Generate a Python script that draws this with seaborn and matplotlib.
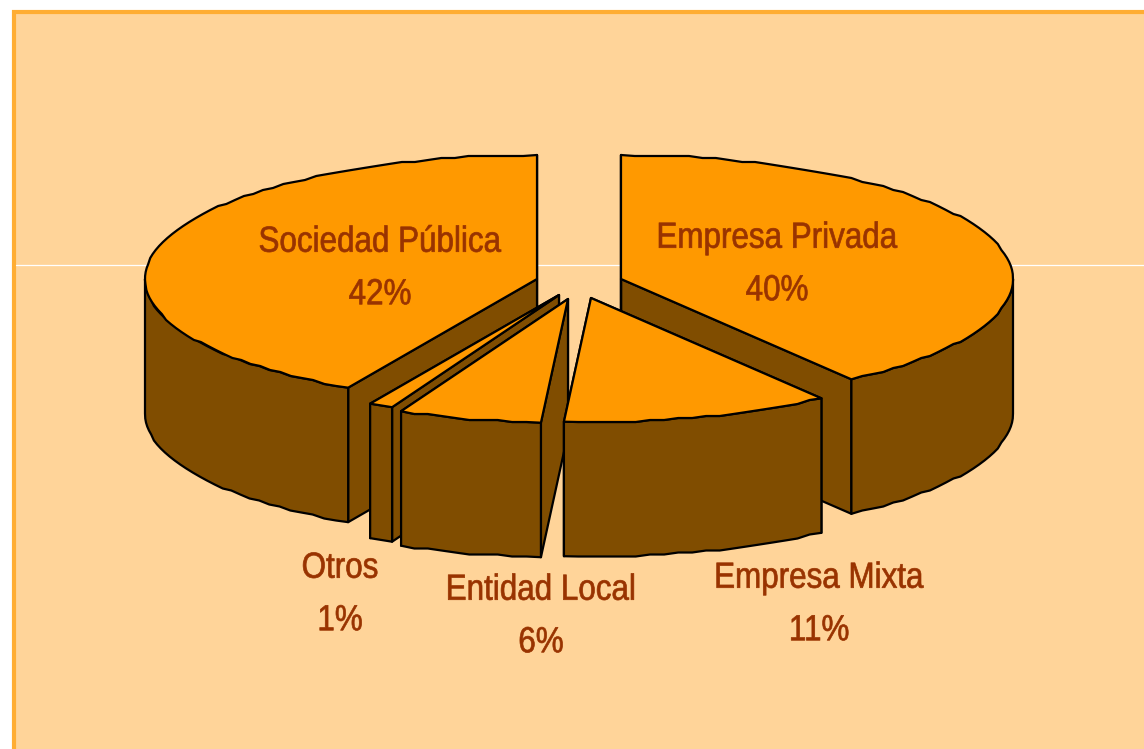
import numpy as np
import seaborn as sns
import matplotlib.pyplot as plt
from matplotlib.patches import Polygon, Rectangle
from matplotlib.patheffects import AbstractPathEffect
from matplotlib.transforms import Affine2D

# porcentajes, en el orden en que giran desde arriba (sentido antihorario)
categories = ["Sociedad Pública", "Otros", "Entidad Local", "Empresa Mixta", "Empresa Privada"]
percents = [42, 1, 5.9, 11.1, 40]

# centro de cada porción ya separada, en pixeles
apex_x = [537, 559, 568, 591, 621]
apex_y = [279, 295, 299, 298, 279]
label_x = [380, 340, 541, 819, 777]
label_y = [270, 596, 618, 606, 266]
draw_order = [0, 4, 1, 2, 3]

RX, RY, DEPTH = 392, 124, 134.5
TOP, SIDE, TEXT = "#FF9900", "#804D00", "#993300"
BACK, FRAME = "#FFD499", "#FFAD33"


class TallText(AbstractPathEffect):
    # la fuente original es más estrecha: se estira la letra en vertical desde la línea base
    def __init__(self, factor):
        super().__init__()
        self.factor = factor

    def draw_path(self, renderer, gc, tpath, affine, rgbFace=None):
        x, y = affine.get_matrix()[:2, 2]
        stretch = Affine2D().translate(-x, -y).scale(1, self.factor).translate(x, y)
        gc0 = renderer.new_gc()
        gc0.copy_properties(gc)
        gc0.set_linewidth(0.5)
        gc0.set_foreground(TEXT)
        renderer.draw_path(gc0, tpath, affine + stretch, rgbFace)
        gc0.restore()


def rim(cx, cy, a0, a1):
    # borde de la elipse, redondeado para dejar el contorno algo irregular
    n = max(2, int(abs(a1 - a0) / 2) + 1)
    ang = np.radians(np.linspace(a0, a1, n))
    x = cx + RX * np.cos(ang)
    y = cy - RY * np.sin(ang)
    y[1:-1] = np.round(y[1:-1] / 2) * 2
    return np.column_stack([x, y])


def draw_slice(ax, cx, cy, a0, a1):
    shift = np.array([0, DEPTH])
    apex = np.array([cx, cy])
    edge = rim(cx, cy, a0, a1)
    style = dict(edgecolor="black", linewidth=1.6, joinstyle="round")

    # caras de corte primero, luego pared exterior y por último la tapa
    for p in (edge[0], edge[-1]):
        ax.add_patch(Polygon([apex, p, p + shift, apex + shift], facecolor=SIDE, **style))
    lo, hi = max(a0, 180), min(a1, 360)
    if hi > lo:
        wall = rim(cx, cy, lo, hi)
        ax.add_patch(Polygon(np.vstack([wall, wall[::-1] + shift]), facecolor=SIDE, **style))
    ax.add_patch(Polygon(np.vstack([apex, edge]), facecolor=TOP, **style))


def main():
    sns.set_theme(style="white")
    plt.rcParams["font.family"] = ["Liberation Sans", "DejaVu Sans"]

    fig = plt.figure(figsize=(11.44, 7.49), dpi=100, facecolor="white")
    ax = fig.add_axes([0, 0, 1, 1])
    ax.set_xlim(0, 1144)
    ax.set_ylim(749, 0)
    ax.axis("off")

    # fondo con marco y la línea clara que cruza detrás del gráfico
    ax.add_patch(Rectangle((14, 12), 1140, 750, facecolor=BACK, edgecolor=FRAME,
                           linewidth=3, zorder=0))
    ax.plot([16, 1144], [265, 265], color="white", linewidth=0.9, zorder=0.5)

    angles = 90 + np.concatenate([[0], np.cumsum(percents)]) * 3.6
    for i in draw_order:
        draw_slice(ax, apex_x[i], apex_y[i], angles[i], angles[i + 1])

    for name, pct, x, y in zip(categories, percents, label_x, label_y):
        ax.text(x, y, f"{name}\n{round(pct)}%", color=TEXT, fontsize=22.6, ha="center",
                va="center", linespacing=1.98, path_effects=[TallText(1.155)])

    fig.savefig("out.png", dpi=100)


if __name__ == "__main__":
    main()
